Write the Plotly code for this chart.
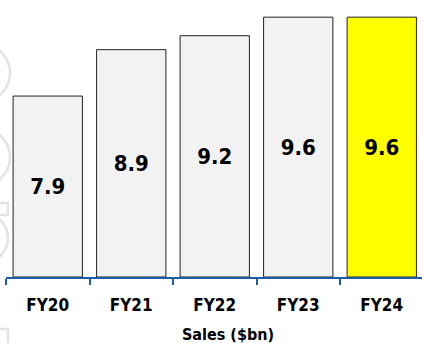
import plotly.graph_objects as go

# Annual sales, $bn
years = ["FY20", "FY21", "FY22", "FY23", "FY24"]
sales = [7.9, 8.9, 9.2, 9.6, 9.6]
fills = ["#f2f2f2", "#f2f2f2", "#f2f2f2", "#f2f2f2", "#ffff00"]
axis_title = "Sales ($bn)"
y_floor = 4  # value axis starts here

W, H = 422, 343
ML, MR, MT, MB = 6, 0, 0, 66
PW, PH = W - ML - MR, H - MT - MB

FONT = "DejaVu Sans Condensed"


def px(x):
    return (x - ML) / PW


def py(y):
    return 1 - (y - MT) / PH


# bars start at the axis floor and end at each year's sales value
fig = go.Figure(
    go.Bar(
        x=years,
        y=[v - y_floor for v in sales],
        base=[y_floor] * len(sales),
        customdata=sales,
        marker=dict(color=fills, line=dict(color="#222222", width=1)),
        texttemplate="%{customdata:.1f}",
        hovertemplate="%{x}: %{customdata:.1f}<extra></extra>",
        textposition="inside",
        insidetextanchor="middle",
        textangle=0,
        textfont=dict(family=FONT, size=22, color="#000000", weight="bold"),
    )
)

# faint decorative outlines along the left edge
deco = dict(type="circle", xref="paper", yref="paper",
            line=dict(color="#e3e3e3", width=2.5), layer="below")
shapes = [
    dict(deco, x0=px(-48), x1=px(10), y0=py(102), y1=py(44)),
    dict(deco, x0=px(-48), x1=px(10), y0=py(186), y1=py(128)),
    dict(deco, x0=px(-42), x1=px(8), y0=py(263), y1=py(213)),
    dict(deco, type="rect", x0=px(-10), x1=px(8), y0=py(215), y1=py(203)),
    dict(deco, type="rect", x0=px(-10), x1=px(8), y0=py(360), y1=py(329)),
]

fig.update_layout(
    width=W,
    height=H,
    margin=dict(l=ML, r=MR, t=MT, b=MB),
    paper_bgcolor="#ffffff",
    plot_bgcolor="#ffffff",
    bargap=0.17,
    showlegend=False,
    shapes=shapes,
    xaxis=dict(
        range=[-0.5, 4.482],
        showline=True,
        linecolor="#1a5ca8",
        linewidth=2,
        ticks="outside",
        tickson="boundaries",
        ticklen=6,
        tickwidth=2,
        tickcolor="#1a5ca8",
        ticklabelstandoff=12,
        showgrid=False,
        tickfont=dict(family=FONT, size=17, color="#000000", weight="bold"),
        fixedrange=True,
    ),
    yaxis=dict(
        range=[y_floor, 9.97],
        visible=False,
        showgrid=False,
        zeroline=False,
        fixedrange=True,
    ),
    annotations=[
        dict(
            text=axis_title,
            xref="paper",
            yref="paper",
            x=px(228),
            y=py(334),
            xanchor="center",
            yanchor="middle",
            showarrow=False,
            font=dict(family=FONT, size=16, color="#000000", weight="bold"),
        )
    ],
)

fig.write_html("out.html")
